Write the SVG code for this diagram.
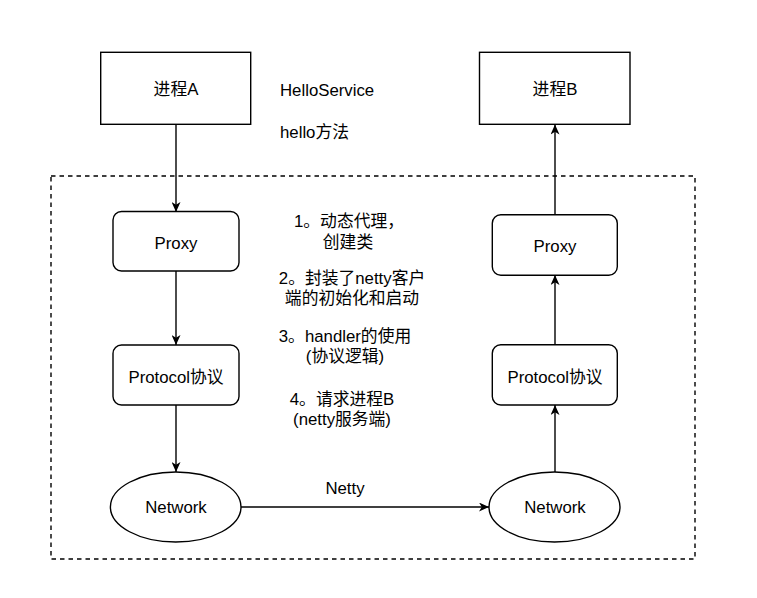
<svg xmlns="http://www.w3.org/2000/svg" width="757" height="598" viewBox="0 0 757 598">
<style>
text{font-family:"Liberation Sans","Noto Sans CJK SC",sans-serif;font-size:16.8px;fill:#000;dominant-baseline:central}
.c{text-anchor:middle}
.box{fill:#fff;stroke:#000;stroke-width:1.4}
.edge{fill:none;stroke:#000;stroke-width:1.4}
</style>
<defs>
<marker id="arr" markerUnits="userSpaceOnUse" viewBox="0 0 10 9" refX="10" refY="4.5" markerWidth="10" markerHeight="9" orient="auto">
<path d="M0,0 L10,4.5 L0,9 L2.8,4.5 z" fill="#000"/>
</marker>
</defs>
<rect width="757" height="598" fill="#fff"/>
<g id="container">
<rect x="51" y="176" width="644" height="383" fill="none" stroke="#000" stroke-width="1.4" stroke-dasharray="4.5 4"/>
</g>
<g id="connectors">
<line class="edge" x1="176" y1="124.5" x2="176" y2="212" marker-end="url(#arr)"/>
<line class="edge" x1="176" y1="271" x2="176" y2="345" marker-end="url(#arr)"/>
<line class="edge" x1="176" y1="405" x2="176" y2="472" marker-end="url(#arr)"/>
<line class="edge" x1="241" y1="507" x2="489" y2="507" marker-end="url(#arr)"/>
<line class="edge" x1="555" y1="472" x2="555" y2="405" marker-end="url(#arr)"/>
<line class="edge" x1="555" y1="345" x2="555" y2="275" marker-end="url(#arr)"/>
<line class="edge" x1="555" y1="215" x2="555" y2="124.5" marker-end="url(#arr)"/>
<text class="c" x="345" y="488">Netty</text>
</g>
<g id="processA">
<rect class="box" x="100.7" y="52.3" width="150" height="72"/>
<text class="c" x="176" y="89">进程A</text>
</g>
<g id="processB">
<rect class="box" x="479.5" y="52.3" width="150.5" height="72"/>
<text class="c" x="555" y="89">进程B</text>
</g>
<g id="helloLabels">
<text x="280" y="90">HelloService</text>
<text x="280" y="132">hello方法</text>
</g>
<g id="proxyA">
<rect class="box" x="113" y="211.5" width="126" height="59.5" rx="8.5"/>
<text class="c" x="176" y="243">Proxy</text>
</g>
<g id="protocolA">
<rect class="box" x="113" y="345" width="126" height="60" rx="8.5"/>
<text class="c" x="176" y="377">Protocol协议</text>
</g>
<g id="networkA">
<ellipse class="box" cx="175.7" cy="507" rx="65.3" ry="35"/>
<text class="c" x="176" y="507">Network</text>
</g>
<g id="proxyB">
<rect class="box" x="492.3" y="214.7" width="125" height="60.6" rx="8.5"/>
<text class="c" x="555" y="246">Proxy</text>
</g>
<g id="protocolB">
<rect class="box" x="492.3" y="344.7" width="125" height="60.3" rx="8.5"/>
<text class="c" x="555" y="377">Protocol协议</text>
</g>
<g id="networkB">
<ellipse class="box" cx="554.5" cy="507" rx="65.5" ry="35"/>
<text class="c" x="555" y="507">Network</text>
</g>
<g id="notes">
<text class="c" x="349" y="221">1。动态代理，</text>
<text class="c" x="348" y="242">创建类</text>
<text class="c" x="352" y="278">2。封装了netty客户</text>
<text class="c" x="352" y="298">端的初始化和启动</text>
<text class="c" x="345" y="336">3。handler的使用</text>
<text class="c" x="345" y="356">(协议逻辑)</text>
<text class="c" x="342" y="399">4。请求进程B</text>
<text class="c" x="342" y="419">(netty服务端)</text>
</g>
</svg>
